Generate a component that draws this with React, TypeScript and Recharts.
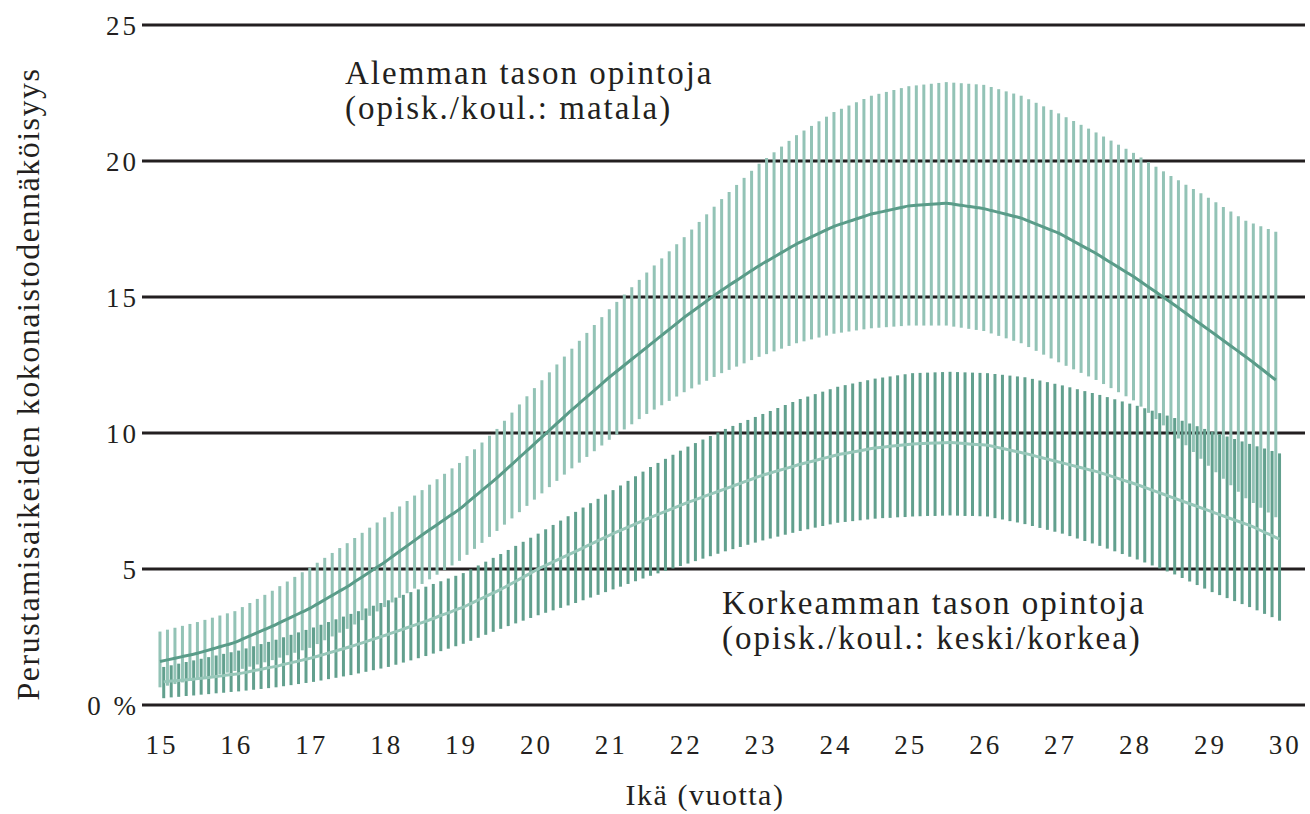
import React from 'react';
import {
  ComposedChart,
  Line,
  Scatter,
  ErrorBar,
  XAxis,
  YAxis,
  CartesianGrid,
} from 'recharts';

// ages run 15.0 ... 29.9 in steps of 0.1 (one bar per step)
const AGE_START = 15;
const AGE_STEP = 0.1;
const LOWER_SHIFT = 0.05; // dark bars sit between the light ones

// Alemman tason opintoja (matala): mean, upper bound, lower bound
const lowMean = [
  1.60, 1.66, 1.72, 1.78, 1.84, 1.90, 1.98, 2.06, 2.14, 2.22,
  2.30, 2.42, 2.54, 2.66, 2.78, 2.90, 3.03, 3.16, 3.29, 3.42,
  3.55, 3.71, 3.87, 4.03, 4.19, 4.35, 4.53, 4.71, 4.89, 5.07,
  5.25, 5.45, 5.65, 5.85, 6.05, 6.25, 6.44, 6.63, 6.82, 7.01,
  7.20, 7.43, 7.66, 7.89, 8.12, 8.35, 8.60, 8.85, 9.10, 9.35,
  9.60, 9.85, 10.10, 10.35, 10.60, 10.85, 11.09, 11.33, 11.57, 11.81,
  12.05, 12.27, 12.49, 12.71, 12.93, 13.15, 13.37, 13.59, 13.81, 14.03,
  14.25, 14.45, 14.65, 14.85, 15.05, 15.25, 15.43, 15.61, 15.79, 15.97,
  16.15, 16.31, 16.47, 16.63, 16.79, 16.95, 17.08, 17.21, 17.34, 17.47,
  17.60, 17.69, 17.78, 17.87, 17.96, 18.05, 18.11, 18.17, 18.23, 18.29,
  18.35, 18.37, 18.39, 18.41, 18.43, 18.45, 18.41, 18.37, 18.33, 18.29,
  18.25, 18.18, 18.11, 18.04, 17.97, 17.90, 17.79, 17.68, 17.57, 17.46,
  17.35, 17.20, 17.05, 16.90, 16.75, 16.60, 16.43, 16.26, 16.09, 15.92,
  15.75, 15.56, 15.37, 15.18, 14.99, 14.80, 14.60, 14.40, 14.20, 14.00,
  13.80, 13.60, 13.40, 13.20, 13.00, 12.80, 12.59, 12.38, 12.16, 11.95,
];
const lowHigh = [
  2.70, 2.77, 2.84, 2.91, 2.98, 3.05, 3.13, 3.21, 3.29, 3.37,
  3.45, 3.60, 3.75, 3.90, 4.05, 4.20, 4.37, 4.54, 4.71, 4.88,
  5.05, 5.23, 5.41, 5.59, 5.77, 5.95, 6.14, 6.33, 6.52, 6.71,
  6.90, 7.10, 7.30, 7.50, 7.70, 7.90, 8.10, 8.30, 8.50, 8.70,
  8.90, 9.15, 9.40, 9.65, 9.90, 10.15, 10.45, 10.75, 11.05, 11.35,
  11.65, 11.94, 12.23, 12.52, 12.81, 13.10, 13.39, 13.68, 13.97, 14.26,
  14.55, 14.82, 15.09, 15.36, 15.63, 15.90, 16.16, 16.42, 16.68, 16.94,
  17.20, 17.48, 17.76, 18.04, 18.32, 18.60, 18.86, 19.12, 19.38, 19.64,
  19.90, 20.11, 20.32, 20.53, 20.74, 20.95, 21.12, 21.29, 21.46, 21.63,
  21.80, 21.92, 22.04, 22.16, 22.28, 22.40, 22.47, 22.54, 22.61, 22.68,
  22.75, 22.78, 22.81, 22.84, 22.87, 22.90, 22.88, 22.86, 22.84, 22.82,
  22.80, 22.72, 22.64, 22.56, 22.48, 22.40, 22.27, 22.14, 22.01, 21.88,
  21.75, 21.61, 21.47, 21.33, 21.19, 21.05, 20.90, 20.75, 20.60, 20.45,
  20.30, 20.13, 19.96, 19.79, 19.62, 19.45, 19.29, 19.13, 18.97, 18.81,
  18.65, 18.48, 18.31, 18.14, 17.97, 17.80, 17.70, 17.60, 17.50, 17.40,
];
const lowLow = [
  0.65, 0.71, 0.77, 0.83, 0.89, 0.95, 1.01, 1.07, 1.13, 1.19,
  1.25, 1.33, 1.41, 1.49, 1.57, 1.65, 1.74, 1.83, 1.92, 2.01,
  2.10, 2.24, 2.38, 2.52, 2.66, 2.80, 2.96, 3.12, 3.28, 3.44,
  3.60, 3.77, 3.94, 4.11, 4.28, 4.45, 4.62, 4.79, 4.96, 5.13,
  5.30, 5.52, 5.74, 5.96, 6.18, 6.40, 6.63, 6.86, 7.09, 7.32,
  7.55, 7.78, 8.01, 8.24, 8.47, 8.70, 8.91, 9.12, 9.33, 9.54,
  9.75, 9.94, 10.13, 10.32, 10.51, 10.70, 10.86, 11.02, 11.18, 11.34,
  11.50, 11.64, 11.78, 11.92, 12.06, 12.20, 12.32, 12.44, 12.56, 12.68,
  12.80, 12.90, 13.00, 13.10, 13.20, 13.30, 13.37, 13.44, 13.51, 13.58,
  13.65, 13.69, 13.73, 13.77, 13.81, 13.85, 13.87, 13.89, 13.91, 13.93,
  13.95, 13.95, 13.95, 13.95, 13.95, 13.95, 13.91, 13.87, 13.83, 13.79,
  13.75, 13.66, 13.57, 13.48, 13.39, 13.30, 13.16, 13.02, 12.88, 12.74,
  12.60, 12.47, 12.34, 12.21, 12.08, 11.95, 11.80, 11.65, 11.50, 11.35,
  11.20, 10.97, 10.74, 10.51, 10.28, 10.05, 9.80, 9.55, 9.30, 9.05,
  8.80, 8.56, 8.32, 8.08, 7.84, 7.60, 7.43, 7.25, 7.08, 6.90,
];

// Korkeamman tason opintoja (keski/korkea): mean, upper bound, lower bound
const highMean = [
  0.85, 0.88, 0.90, 0.93, 0.95, 0.98, 1.01, 1.05, 1.08, 1.12,
  1.15, 1.20, 1.26, 1.31, 1.37, 1.42, 1.49, 1.55, 1.62, 1.68,
  1.75, 1.83, 1.91, 1.99, 2.07, 2.15, 2.24, 2.33, 2.42, 2.51,
  2.60, 2.70, 2.79, 2.89, 2.98, 3.08, 3.18, 3.29, 3.39, 3.50,
  3.60, 3.73, 3.86, 3.99, 4.12, 4.25, 4.40, 4.55, 4.70, 4.85,
  5.00, 5.13, 5.26, 5.39, 5.52, 5.65, 5.78, 5.91, 6.04, 6.17,
  6.30, 6.42, 6.54, 6.66, 6.78, 6.90, 7.01, 7.12, 7.23, 7.34,
  7.45, 7.55, 7.65, 7.75, 7.85, 7.95, 8.05, 8.15, 8.25, 8.35,
  8.45, 8.53, 8.61, 8.69, 8.77, 8.85, 8.92, 8.99, 9.06, 9.13,
  9.20, 9.25, 9.30, 9.35, 9.40, 9.45, 9.48, 9.51, 9.54, 9.57,
  9.60, 9.61, 9.62, 9.63, 9.64, 9.65, 9.63, 9.61, 9.59, 9.57,
  9.55, 9.49, 9.43, 9.37, 9.31, 9.25, 9.18, 9.11, 9.04, 8.97,
  8.90, 8.83, 8.76, 8.69, 8.62, 8.55, 8.46, 8.37, 8.28, 8.19,
  8.10, 8.00, 7.90, 7.80, 7.70, 7.60, 7.50, 7.40, 7.30, 7.20,
  7.10, 7.00, 6.90, 6.80, 6.70, 6.60, 6.48, 6.35, 6.23, 6.10,
];
const highHigh = [
  1.40, 1.46, 1.52, 1.58, 1.64, 1.70, 1.76, 1.82, 1.88, 1.94,
  2.00, 2.08, 2.16, 2.24, 2.32, 2.40, 2.49, 2.58, 2.67, 2.76,
  2.85, 2.95, 3.05, 3.15, 3.25, 3.35, 3.45, 3.55, 3.65, 3.75,
  3.85, 3.95, 4.05, 4.15, 4.25, 4.35, 4.45, 4.55, 4.65, 4.75,
  4.85, 4.99, 5.13, 5.27, 5.41, 5.55, 5.70, 5.85, 6.00, 6.15,
  6.30, 6.46, 6.62, 6.78, 6.94, 7.10, 7.26, 7.42, 7.58, 7.74,
  7.90, 8.07, 8.24, 8.41, 8.58, 8.75, 8.90, 9.05, 9.20, 9.35,
  9.50, 9.63, 9.76, 9.89, 10.02, 10.15, 10.26, 10.37, 10.48, 10.59,
  10.70, 10.81, 10.92, 11.03, 11.14, 11.25, 11.34, 11.43, 11.52, 11.61,
  11.70, 11.76, 11.82, 11.88, 11.94, 12.00, 12.04, 12.08, 12.12, 12.16,
  12.20, 12.21, 12.22, 12.23, 12.24, 12.25, 12.24, 12.23, 12.22, 12.21,
  12.20, 12.17, 12.14, 12.11, 12.08, 12.05, 11.99, 11.93, 11.87, 11.81,
  11.75, 11.68, 11.61, 11.54, 11.47, 11.40, 11.32, 11.24, 11.16, 11.08,
  11.00, 10.91, 10.82, 10.73, 10.64, 10.55, 10.45, 10.35, 10.25, 10.15,
  10.05, 9.96, 9.87, 9.78, 9.69, 9.60, 9.51, 9.43, 9.34, 9.25,
];
const highLow = [
  0.25, 0.28, 0.30, 0.33, 0.35, 0.38, 0.40, 0.43, 0.45, 0.48,
  0.50, 0.53, 0.56, 0.59, 0.62, 0.65, 0.69, 0.73, 0.77, 0.81,
  0.85, 0.90, 0.95, 1.00, 1.05, 1.10, 1.16, 1.22, 1.28, 1.34,
  1.40, 1.48, 1.56, 1.64, 1.72, 1.80, 1.89, 1.98, 2.07, 2.16,
  2.25, 2.36, 2.47, 2.58, 2.69, 2.80, 2.90, 3.00, 3.10, 3.20,
  3.30, 3.39, 3.48, 3.57, 3.66, 3.75, 3.85, 3.95, 4.05, 4.15,
  4.25, 4.35, 4.45, 4.55, 4.65, 4.75, 4.84, 4.93, 5.02, 5.11,
  5.20, 5.29, 5.38, 5.47, 5.56, 5.65, 5.73, 5.81, 5.89, 5.97,
  6.05, 6.12, 6.19, 6.26, 6.33, 6.40, 6.46, 6.52, 6.58, 6.64,
  6.70, 6.73, 6.76, 6.79, 6.82, 6.85, 6.87, 6.88, 6.90, 6.91,
  6.93, 6.94, 6.95, 6.95, 6.96, 6.97, 6.96, 6.95, 6.95, 6.94,
  6.93, 6.87, 6.82, 6.76, 6.71, 6.65, 6.58, 6.51, 6.44, 6.37,
  6.30, 6.21, 6.12, 6.03, 5.94, 5.85, 5.75, 5.65, 5.55, 5.45,
  5.35, 5.24, 5.13, 5.02, 4.91, 4.80, 4.67, 4.54, 4.41, 4.28,
  4.15, 4.04, 3.93, 3.82, 3.71, 3.60, 3.48, 3.35, 3.23, 3.10,
];

const xTicks = [15, 16, 17, 18, 19, 20, 21, 22, 23, 24, 25, 26, 27, 28, 29, 30];
const yTicks = [0, 5, 10, 15, 20, 25];

const ages = lowMean.map((_, i) => +(AGE_START + i * AGE_STEP).toFixed(2));

const lowData = lowMean.map((m, i) => ({
  x: ages[i],
  y: m,
  err: [m - lowLow[i], lowHigh[i] - m],
}));

const highData = highMean.map((m, i) => ({
  x: +(ages[i] + LOWER_SHIFT).toFixed(2),
  y: m,
  err: [m - highLow[i], highHigh[i] - m],
}));

const SERIF = '"Liberation Serif", "DejaVu Serif", serif';
const INK = '#231f20';
const LIGHT = '#93c3b6';
const DARK = '#62a08e';

const noDot = () => <g />;

const App = () => {
  return (
    <div
      style={{
        position: 'absolute',
        left: 0,
        top: 0,
        width: 1310,
        height: 814,
        background: '#fff',
        fontFamily: SERIF,
        color: INK,
      }}
    >
      <style>{`.recharts-cartesian-axis-tick-value { letter-spacing: 3px; }`}</style>
      <ComposedChart width={1310} height={814} margin={{ top: 25, right: 5, left: 0, bottom: 0 }}>
        <CartesianGrid vertical={false} stroke={INK} strokeWidth={3} />
        <XAxis
          type="number"
          dataKey="x"
          domain={[14.76, 30.29]}
          ticks={xTicks}
          allowDataOverflow
          height={109}
          tickLine={false}
          axisLine={false}
          tickSize={0}
          tickMargin={30}
          tick={{ fontFamily: SERIF, fontSize: 27, fill: INK, dx: 2 }}
        />
        <YAxis
          type="number"
          dataKey="y"
          domain={[0, 25]}
          ticks={yTicks}
          width={142}
          tickLine={false}
          axisLine={false}
          tickSize={0}
          tickMargin={3}
          tickFormatter={(v: number) => (v === 0 ? '0 %' : String(v))}
          tick={{ fontFamily: SERIF, fontSize: 27, fill: INK }}
        />
        <Scatter data={lowData} dataKey="y" shape={noDot} isAnimationActive={false}>
          <ErrorBar dataKey="err" direction="y" width={0} strokeWidth={3} stroke={LIGHT} isAnimationActive={false} />
        </Scatter>
        <Scatter data={highData} dataKey="y" shape={noDot} isAnimationActive={false}>
          <ErrorBar dataKey="err" direction="y" width={0} strokeWidth={3} stroke={DARK} isAnimationActive={false} />
        </Scatter>
        <Line
          data={lowData}
          dataKey="y"
          type="monotone"
          stroke="#5a9c89"
          strokeWidth={3}
          dot={false}
          activeDot={false}
          isAnimationActive={false}
          zIndex={700}
        />
        <Line
          data={highData}
          dataKey="y"
          type="monotone"
          stroke="#97c7b9"
          strokeWidth={3}
          dot={false}
          activeDot={false}
          isAnimationActive={false}
          zIndex={700}
        />
      </ComposedChart>

      <div style={{ position: 'absolute', left: 345, top: 56, fontSize: 33, lineHeight: '35px', letterSpacing: 2, whiteSpace: 'nowrap' }}>
        Alemman tason opintoja
        <br />
        (opisk./koul.: matala)
      </div>
      <div style={{ position: 'absolute', left: 722, top: 586, fontSize: 33, lineHeight: '35px', letterSpacing: 2, whiteSpace: 'nowrap' }}>
        Korkeamman tason opintoja
        <br />
        (opisk./koul.: keski/korkea)
      </div>
      <div
        style={{
          position: 'absolute',
          left: 705,
          top: 780,
          transform: 'translateX(-50%)',
          fontSize: 30,
          lineHeight: '30px',
          letterSpacing: 1.5,
          whiteSpace: 'nowrap',
        }}
      >
        Ikä (vuotta)
      </div>
      <div
        style={{
          position: 'absolute',
          left: 28,
          top: 384,
          transform: 'translate(-50%, -50%) rotate(-90deg)',
          fontSize: 32,
          lineHeight: '34px',
          letterSpacing: 1.5,
          whiteSpace: 'nowrap',
        }}
      >
        Perustamisaikeiden kokonaistodennäköisyys
      </div>
    </div>
  );
};

export default App;
